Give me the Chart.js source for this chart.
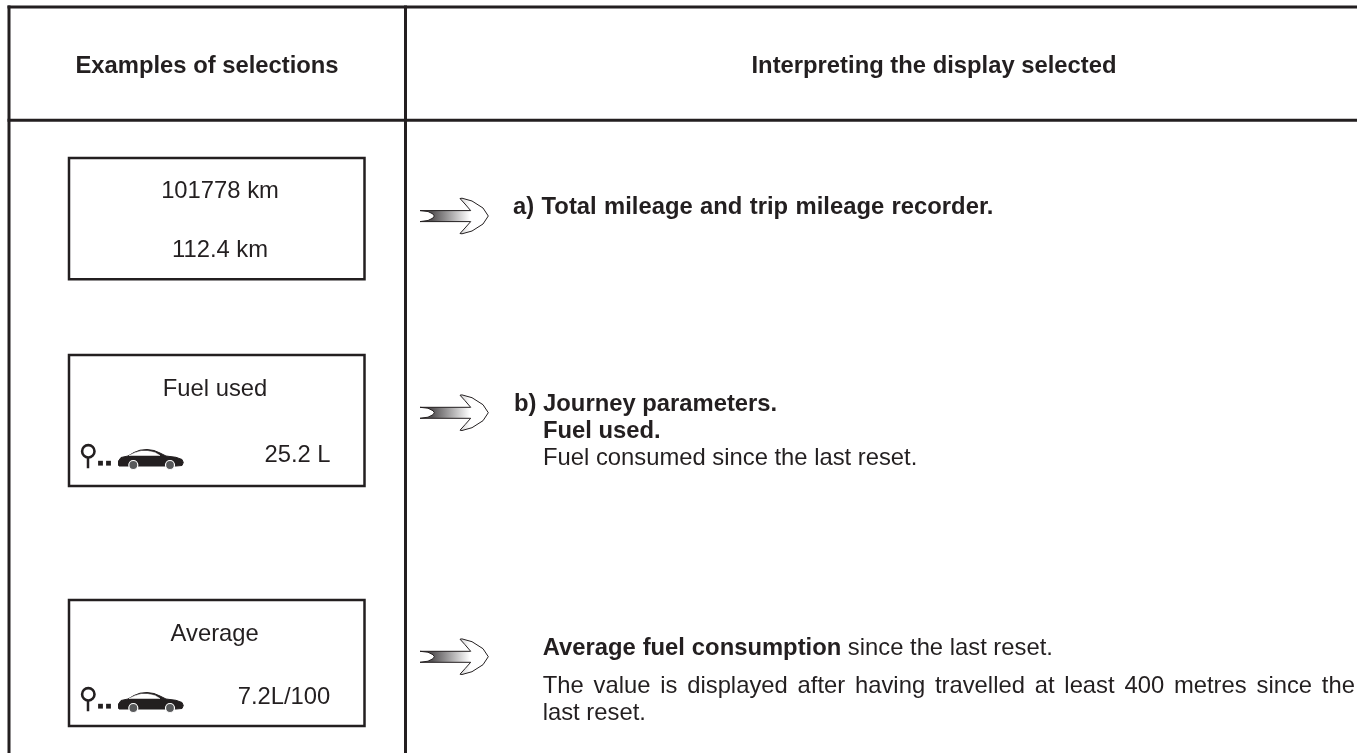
<!DOCTYPE html>
<html>
<head>
<meta charset="utf-8">
<title>Examples of selections</title>
<script src="https://cdn.jsdelivr.net/npm/chart.js@4"></script>
<style>
  html, body { margin: 0; padding: 0; background: #fff; overflow: hidden; }
  canvas { display: block; }
</style>
</head>
<body>
<canvas id="tableChart" width="1357" height="753"></canvas>
<script>
// table contents
const headers = ['Examples of selections', 'Interpreting the display selected'];
const displayTop = ['101778 km', 'Fuel used', 'Average'];
const displayBottom = ['112.4 km', '25.2 L', '7.2L/100'];
const notes = [
    [['a) Total mileage and trip mileage recorder.', 'bold']],
    [['b) Journey parameters.', 'bold']],
    [['Fuel used.', 'bold']],
    [['Fuel consumed since the last reset.', 'normal']],
    [['Average fuel consumption', 'bold'], [' since the last reset.', 'normal']],
    [['The value is displayed after having travelled at least 400 metres since the', 'normal']],
    [['last reset.', 'normal']]
];

// where things sit, in page pixels
const tableRules = [[9, 7, 1357, 7], [9, 120.3, 1357, 120.3], [9, 7, 9, 753], [405.5, 7, 405.5, 753]];
const boxes = [[69, 158, 364.5, 279.3], [69, 355, 364.5, 486], [69, 600, 364.5, 726]];
const headerPos = [[207, 72.5], [934, 72.5]];
const topPos = [[220, 198.3], [215, 395.7], [214.7, 640.7]];
const bottomPos = [[220, 256.7], [297.5, 461.7], [284, 704]];
const notePos = [[513, 214], [514, 411], [543, 438], [543, 465], [542.7, 655], [542.7, 692.7], [542.7, 719.5]];
const noteWordGap = [0.8, 0, 0, 0, 0.3, 3.2, 0];
const arrowDy = [0, 196.7, 440.7];
const iconDy = [0, 243];

const INK = '#231f20';
const arrowShape = [[420, 210.6], [470.7, 210.6], [465, 204], [460, 198.5], [462, 198.2], [472, 201], [483, 208], [488.3, 216], [483, 224], [472, 231], [462, 233.8], [460, 233.5], [465, 228], [470.7, 221.6], [420, 221.6], [428, 220.5], [433, 218], [434.3, 216], [433, 214], [428, 211.5], [420, 210.6]];
const carShape = [[118.5, 465], [118.5, 461], [121, 457.5], [128, 456], [134, 452.5], [140, 450.2], [147, 449.5], [154, 450.5], [160, 453], [166, 456], [176, 457.3], [182, 459.5], [183.3, 462.5], [182, 465.5], [176, 466], [124, 466], [119, 466], [118.5, 465]];
const carWindow = [[129, 455.5], [135, 452.7], [141, 451], [148, 451], [155, 452.5], [160, 455.5], [129, 455.5]];
const wheels = [[133.3, 465], [170, 465]];

const toPoints = pts => pts.map(p => ({ x: p[0], y: p[1] }));
const shift = (pts, dy) => pts.map(p => [p[0], p[1] + dy]);
const lineSet = (pts, width) => ({
    data: toPoints(pts), showLine: true, borderColor: INK, borderWidth: width, pointRadius: 0, fill: false,
    borderCapStyle: 'square', borderJoinStyle: 'miter'
});

const canvas = document.getElementById('tableChart');
const arrowFill = canvas.getContext('2d').createLinearGradient(432, 0, 470, 0);
arrowFill.addColorStop(0, '#555254');
arrowFill.addColorStop(1, '#ffffff');

const datasets = [];
tableRules.forEach(r => datasets.push(lineSet([[r[0], r[1]], [r[2], r[3]]], 3)));
boxes.forEach(b => datasets.push(lineSet([[b[0], b[1]], [b[2], b[1]], [b[2], b[3]], [b[0], b[3]], [b[0], b[1]]], 2.5)));
arrowDy.forEach(dy => {
    datasets.push({
        data: toPoints(shift(arrowShape, dy)), showLine: true, borderColor: INK, borderWidth: 1,
        backgroundColor: arrowFill, fill: 'shape', pointRadius: 0
    });
});
iconDy.forEach(dy => {
    datasets.push({
        data: toPoints(shift(carShape, dy)), showLine: true, borderColor: INK, borderWidth: 1,
        backgroundColor: INK, fill: 'shape', pointRadius: 0
    });
    datasets.push({
        data: toPoints(shift(carWindow, dy)), showLine: true, borderColor: '#fff', borderWidth: 0.5,
        backgroundColor: '#fff', fill: 'shape', pointRadius: 0
    });
    datasets.push({
        data: toPoints(shift(wheels, dy)), showLine: false, pointRadius: 4.5,
        pointBackgroundColor: '#58595b', pointBorderColor: '#fff', pointBorderWidth: 1.2
    });
    // lupa y puntos
    datasets.push(lineSet(shift([[88, 457], [88, 467]], dy), 2.5));
    datasets.push({
        data: toPoints(shift([[88.3, 451.3]], dy)), showLine: false, pointRadius: 6.2,
        pointBackgroundColor: '#fff', pointBorderColor: INK, pointBorderWidth: 2.6
    });
    datasets.push({
        data: toPoints(shift([[100.5, 463.2], [108.5, 463.2]], dy)), showLine: false, pointStyle: 'rect',
        pointRadius: 3.4, pointBackgroundColor: INK, pointBorderColor: INK, pointBorderWidth: 0
    });
});
// Chart.js pinta el primer dataset encima, así que se invierte el orden
datasets.reverse();

// los textos se dibujan encima, usando las escalas del chart
const textPlugin = {
    id: 'tableText',
    afterDatasetsDraw(chart) {
        const { ctx, scales } = chart;
        const put = (text, pos, weight, align) => {
            ctx.font = weight + ' 23.8px "Liberation Sans", Arial, sans-serif';
            ctx.textAlign = align;
            ctx.textBaseline = 'alphabetic';
            ctx.fillStyle = INK;
            ctx.fillText(text, scales.x.getPixelForValue(pos[0]), scales.y.getPixelForValue(pos[1]));
        };
        ctx.save();
        headers.forEach((t, i) => put(t, headerPos[i], 'bold', 'center'));
        displayTop.forEach((t, i) => put(t, topPos[i], 'normal', 'center'));
        displayBottom.forEach((t, i) => put(t, bottomPos[i], 'normal', 'center'));
        notes.forEach((runs, i) => {
            let x = notePos[i][0];
            ctx.wordSpacing = noteWordGap[i] + 'px';
            runs.forEach(run => {
                put(run[0], [x, notePos[i][1]], run[1], 'left');
                x += ctx.measureText(run[0]).width;
            });
            ctx.wordSpacing = '0px';
        });
        ctx.restore();
    }
};

new Chart(canvas, {
    type: 'scatter',
    data: { datasets },
    options: {
        responsive: false,
        animation: false,
        layout: { padding: 0, autoPadding: false },
        plugins: { legend: { display: false }, tooltip: { enabled: false }, title: { display: false } },
        scales: {
            x: { type: 'linear', display: false, min: 0, max: 1357 },
            y: { type: 'linear', display: false, min: 0, max: 753, reverse: true }
        }
    },
    plugins: [textPlugin]
});
</script>
</body>
</html>
